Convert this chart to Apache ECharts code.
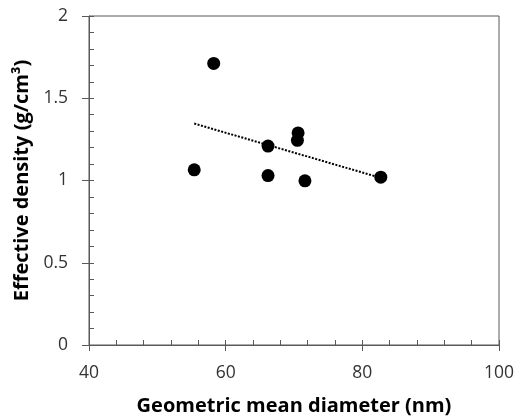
<!DOCTYPE html>
<html>
<head>
<meta charset="utf-8">
<script src="https://cdn.jsdelivr.net/npm/echarts@6/dist/echarts.min.js"></script>
<style>
html,body{margin:0;padding:0;background:#fff;}
#chart{width:524px;height:416px;}
</style>
</head>
<body>
<div id="chart"></div>
<script>
// Data
const diameterNm = [58.25, 55.4, 66.2, 66.2, 70.6, 70.5, 71.6, 82.7];
const effDensity = [1.712, 1.065, 1.209, 1.030, 1.289, 1.244, 0.998, 1.020];
// Linear trendline endpoints
const trendX = [55.4, 82.7];
const trendY = [1.346, 1.016];
const xTicks = [40, 60, 80, 100];
const yTicks = [0, 0.5, 1, 1.5, 2];
const xTitle = 'Geometric mean diameter (nm)';
const yTitle = 'Effective density (g/cm³)';

const axisColor = '#595959';
const font = 'Open Sans';

const scatterData = diameterNm.map((x, i) => [x, effDensity[i]]);
const trendData = trendX.map((x, i) => [x, trendY[i]]);

const chart = echarts.init(document.getElementById('chart'), null, {renderer: 'canvas'});
chart.setOption({
  animation: false,
  backgroundColor: '#fff',
  grid: {left: 89, right: 25, top: 16, bottom: 71, show: true, borderColor: axisColor, borderWidth: 1,
         containLabel: false, outerBoundsMode: 'none'},
  xAxis: [
    {
      type: 'value', min: xTicks[0], max: xTicks[xTicks.length - 1], interval: 20,
      name: xTitle, nameLocation: 'middle', nameGap: 51,
      nameTextStyle: {fontFamily: font, fontWeight: 'bold', fontSize: 20, color: '#000'},
      axisLine: {show: true, lineStyle: {color: axisColor, width: 1}},
      axisTick: {show: true, inside: false, length: 6, lineStyle: {color: axisColor}},
      axisLabel: {fontFamily: font, fontSize: 17.5, color: '#333', margin: 19},
      splitLine: {show: false}
    },
    {
      type: 'value', min: xTicks[0], max: xTicks[xTicks.length - 1], interval: 4,
      position: 'bottom',
      axisLine: {show: false},
      axisTick: {show: true, inside: true, length: 5, lineStyle: {color: axisColor}},
      axisLabel: {show: false},
      splitLine: {show: false}
    }
  ],
  yAxis: [
    {
      type: 'value', min: yTicks[0], max: yTicks[yTicks.length - 1], interval: 0.5,
      name: yTitle, nameLocation: 'middle', nameGap: 54,
      nameTextStyle: {fontFamily: font, fontWeight: 'bold', fontSize: 20, color: '#000'},
      axisLine: {show: true, lineStyle: {color: axisColor, width: 1}},
      axisTick: {show: true, inside: false, length: 7, lineStyle: {color: axisColor}},
      axisLabel: {fontFamily: font, fontSize: 17.5, color: '#333', margin: 21},
      splitLine: {show: false}
    },
    {
      type: 'value', min: yTicks[0], max: yTicks[yTicks.length - 1], interval: 0.1,
      position: 'left',
      axisLine: {show: false},
      axisTick: {show: true, inside: true, length: 5, lineStyle: {color: axisColor}},
      axisLabel: {show: false},
      splitLine: {show: false}
    }
  ],
  series: [
    {
      type: 'line', xAxisIndex: 0, yAxisIndex: 0,
      data: trendData, showSymbol: false, symbol: 'none',
      lineStyle: {color: '#000', width: 2, type: [2, 1.5]},
      z: 1
    },
    {
      type: 'scatter', xAxisIndex: 0, yAxisIndex: 0,
      data: scatterData, symbol: 'circle', symbolSize: 13,
      itemStyle: {color: '#000', opacity: 1},
      z: 2
    }
  ]
});
</script>
</body>
</html>
